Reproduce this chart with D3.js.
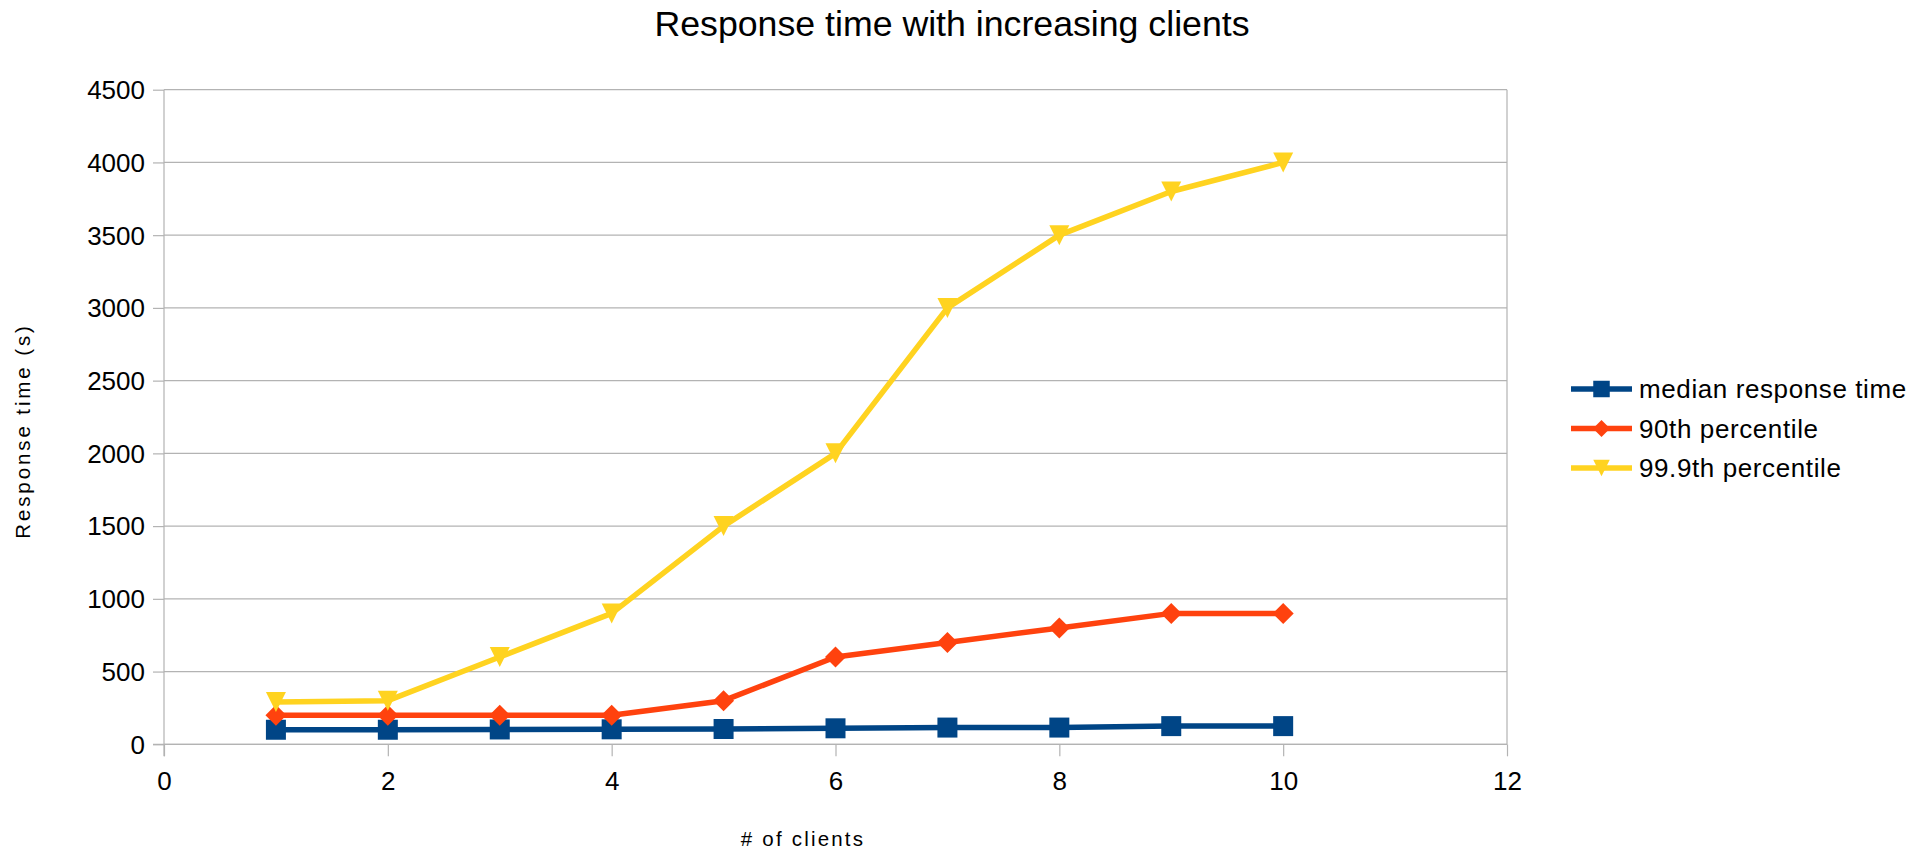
<!DOCTYPE html>
<html><head><meta charset="utf-8">
<script src="https://cdn.jsdelivr.net/npm/d3@7"></script>
<style>
html,body{margin:0;padding:0;background:#fff;}
svg{display:block;font-family:"Liberation Sans",Arial,sans-serif;}
</style></head>
<body>
<svg id="chart" width="1929" height="850"></svg>
<script>
const clients = [1,2,3,4,5,6,7,8,9,10];
const median = [100,100,102,103,105,110,115,115,125,125];
const p90 = [200,200,200,200,300,600,700,800,900,900];
const p999 = [290,300,600,900,1500,2000,3000,3500,3800,4000];
const seriesNames = ["median response time","90th percentile","99.9th percentile"];
const seriesColors = ["#004586","#ff420e","#ffd320"];
const seriesShapes = ["square","diamond","triangleDown"];
const xTicks = [0,2,4,6,8,10,12];
const yTicks = [0,500,1000,1500,2000,2500,3000,3500,4000,4500];

const series = [median,p90,p999].map((vals,i)=>({name:seriesNames[i],color:seriesColors[i],shape:seriesShapes[i],values:vals.map((v,j)=>({x:clients[j],y:v}))}));

const svg = d3.select("#chart");
const L=164, R=1507, T=89.7, B=744.3;
const x = d3.scaleLinear().domain([0,12]).range([L,R]);
const y = d3.scaleLinear().domain([0,4500]).range([B,T]);
const grid="#b3b3b3";

// gridlines
svg.append("g").selectAll("line").data(yTicks).join("line")
  .attr("x1",L).attr("x2",R).attr("y1",d=>y(d)).attr("y2",d=>y(d))
  .attr("stroke",grid).attr("stroke-width",1.2);
// right border
svg.append("line").attr("x1",R).attr("x2",R).attr("y1",T).attr("y2",B).attr("stroke",grid).attr("stroke-width",1.2);

// axes
const yAxis = d3.axisLeft(y).tickValues(yTicks).tickSize(11).tickPadding(8).tickFormat(d3.format("d"));
const gy = svg.append("g").attr("transform",`translate(${L},0)`).call(yAxis);
const xAxis = d3.axisBottom(x).tickValues(xTicks).tickSize(12).tickPadding(15).tickFormat(d3.format("d"));
const gx = svg.append("g").attr("transform",`translate(0,${B})`).call(xAxis);
[gx,gy].forEach(g=>{
  g.select(".domain").remove();
  g.selectAll(".tick line").attr("stroke",grid).attr("stroke-width",1.2);
  g.selectAll(".tick text").attr("fill","#000").style("font-size","26px").style("font-family","'Liberation Sans',Arial,sans-serif");
});
svg.append("line").attr("x1",L).attr("x2",L).attr("y1",T).attr("y2",B+12).attr("stroke",grid).attr("stroke-width",1.2);
svg.append("line").attr("x1",L-11).attr("x2",R).attr("y1",B).attr("y2",B).attr("stroke",grid).attr("stroke-width",1.2);
gy.selectAll(".tick text").attr("dy","0.34em");

// lines
const line = d3.line().x(d=>x(d.x)).y(d=>y(d.y));
function shapePath(shape, s){
  const h=s/2;
  if(shape==="square") return `M${-h},${-h}H${h}V${h}H${-h}Z`;
  if(shape==="diamond") return `M0,${-h}L${h},0L0,${h}L${-h},0Z`;
  return `M${-h},${-h}H${h}L0,${h}Z`;
}
series.forEach(s=>{
  const g = svg.append("g");
  g.append("path").datum(s.values).attr("d",line).attr("fill","none")
    .attr("stroke",s.color).attr("stroke-width",5.5).attr("stroke-linejoin","round");
  g.selectAll("path.m").data(s.values).join("path").attr("class","m")
    .attr("transform",d=>`translate(${x(d.x)},${y(d.y)})`)
    .attr("d",shapePath(s.shape, s.shape==="diamond"?21:20)).attr("fill",s.color);
});

// title
svg.append("text").attr("x",952).attr("y",36).attr("text-anchor","middle")
  .style("font-size","35.7px").text("Response time with increasing clients");

// axis titles
svg.append("text").attr("x",803).attr("y",846).attr("text-anchor","middle")
  .style("font-size","20.5px").style("letter-spacing","2.2px").text("# of clients");
svg.append("text").attr("transform","translate(30,431) rotate(-90)").attr("text-anchor","middle")
  .style("font-size","20.5px").style("letter-spacing","2.9px").text("Response time (s)");

// legend
const lg = svg.append("g");
series.forEach((s,i)=>{
  const yy = 389 + i*39.5;
  lg.append("line").attr("x1",1571).attr("x2",1632).attr("y1",yy).attr("y2",yy)
    .attr("stroke",s.color).attr("stroke-width",5.5);
  lg.append("path").attr("transform",`translate(1601.5,${yy})`).attr("d",shapePath(s.shape,s.shape==="diamond"?17:16.5)).attr("fill",s.color);
  lg.append("text").attr("x",1639).attr("y",yy+9).style("font-size","26px").style("letter-spacing","0.6px").text(s.name);
});
</script>
</body></html>
